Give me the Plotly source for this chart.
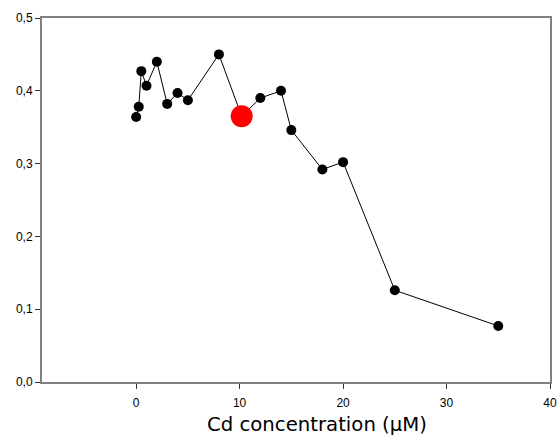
import plotly.graph_objects as go

# Cd concentration (µM) and measured response
cd_conc = [0, 0.25, 0.5, 1, 2, 3, 4, 5, 8, 12, 14, 15, 18, 20, 25, 35]
response = [0.364, 0.378, 0.427, 0.407, 0.440, 0.382, 0.397, 0.387, 0.450,
            0.390, 0.400, 0.346, 0.292, 0.302, 0.126, 0.077]

# highlighted point
hl_conc = [10.2]
hl_response = [0.365]

x_ticks = [0, 10, 20, 30, 40]
y_ticks = [0.0, 0.1, 0.2, 0.3, 0.4, 0.5]
y_tick_text = ["0,0", "0,1", "0,2", "0,3", "0,4", "0,5"]
x_title = "Cd concentration (µM)"

# line passes through the highlighted point between 8 and 12 µM
line_x = cd_conc[:9] + hl_conc + cd_conc[9:]
line_y = response[:9] + hl_response + response[9:]

fig = go.Figure()
fig.add_trace(go.Scatter(x=line_x, y=line_y, mode="lines",
                         line=dict(color="black", width=1), showlegend=False))
fig.add_trace(go.Scatter(x=cd_conc, y=response, mode="markers",
                         marker=dict(color="black", size=10), showlegend=False))
fig.add_trace(go.Scatter(x=hl_conc, y=hl_response, mode="markers",
                         marker=dict(color="#ff0000", size=22), showlegend=False))

axis_line = dict(showline=True, linecolor="#7f7f7f", linewidth=2, mirror=True,
                 showgrid=False, zeroline=False, ticks="outside", ticklen=5,
                 tickcolor="#333333", tickwidth=1, automargin=False)

fig.update_xaxes(range=[-9.1, 40], tickvals=x_ticks, ticklabelstandoff=4,
                 tickfont=dict(family="Liberation Sans, Arial", size=12, color="black"),
                 **axis_line)
fig.update_yaxes(range=[0, 0.5], tickvals=y_ticks, ticktext=y_tick_text,
                 tickfont=dict(family="Liberation Sans, Arial", size=12, color="black"),
                 **axis_line)

# axis title sits slightly right of the plot centre
fig.add_annotation(text=x_title, xref="paper", yref="paper", x=0.5413, y=-0.118,
                   xanchor="center", yanchor="middle", showarrow=False,
                   font=dict(family="DejaVu Sans, Verdana", size=19.7, color="black"))

fig.update_layout(width=558, height=437,
                  margin=dict(l=42, r=8, t=18, b=55),
                  plot_bgcolor="white", paper_bgcolor="white")

fig.write_html("out.html")
